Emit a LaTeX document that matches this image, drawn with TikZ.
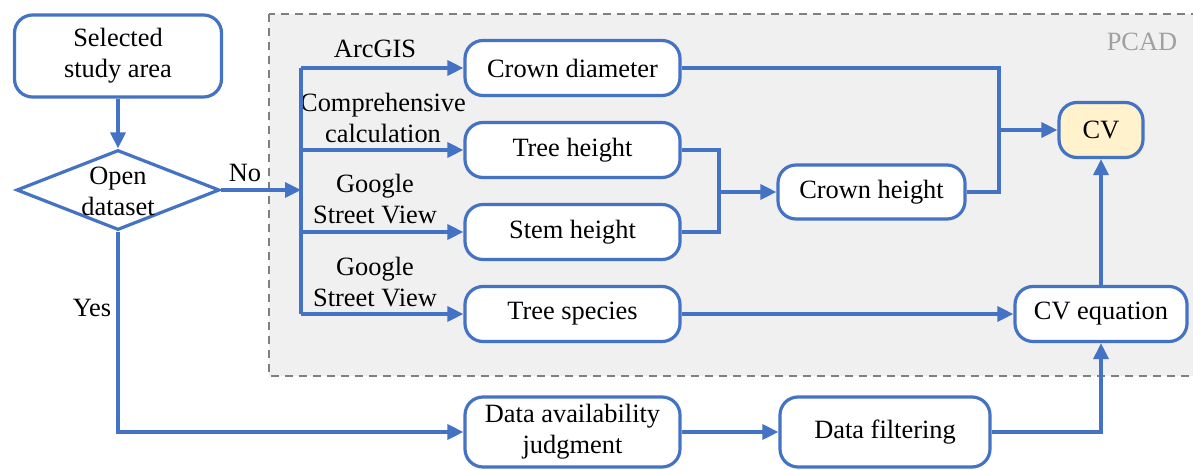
\documentclass[tikz,border=0pt]{standalone}
\usepackage{fontspec}
\setmainfont{Liberation Serif}
\usetikzlibrary{arrows.meta,shapes.geometric}
\definecolor{fb}{HTML}{4472C4}
\definecolor{cvfill}{HTML}{FFF2CC}
\definecolor{pcadbg}{HTML}{F0F0F0}
\definecolor{dashgray}{HTML}{7F7F7F}
\definecolor{pcadtxt}{HTML}{A0A0A0}
\begin{document}
\begin{tikzpicture}[x=0.5pt,y=-0.5pt,
  font=\fontsize{13.2}{15.5}\selectfont,
  box/.style={draw=fb, line width=1.6pt, rounded corners=9pt, fill=white, align=center, inner sep=0pt},
  conn/.style={draw=fb, line width=1.6pt},
  arr/.style={conn, -{Triangle[length=8pt,width=7.5pt]}},
  lbl/.style={align=center, inner sep=0pt}]
\useasboundingbox (0,0) rectangle (1193,470);
\fill[white] (0,0) rectangle (1193,470);
% PCAD region
\path[fill=pcadbg, draw=dashgray, line width=1.25pt, dash pattern=on 4pt off 3pt] (269,14) rectangle (1205,376);
\node[lbl, text=pcadtxt] (pcad) at (1142,42) {PCAD};

% nodes
\node[box, minimum width=103.5pt, minimum height=41pt] (sel) at (118,56) {Selected\\study area};
\node[draw=fb, line width=1.6pt, diamond, fill=white, minimum width=101.5pt, minimum height=40pt, inner sep=0pt] (dia) at (118,190) {};
\node[lbl] (diat) at (118,191) {Open\\dataset};

\node[box, minimum width=107.5pt, minimum height=27.5pt] (cd) at (572.5,68) {Crown diameter};
\node[box, minimum width=107.5pt, minimum height=27.5pt] (th) at (572.5,150) {Tree height};
\node[box, minimum width=107.5pt, minimum height=27.5pt] (sh) at (572.5,232) {Stem height};
\node[box, minimum width=107.5pt, minimum height=27.5pt] (ts) at (572.5,314) {Tree species};
\node[box, minimum width=93.5pt, minimum height=27pt] (ch) at (871.5,192) {Crown height};
\node[box, fill=cvfill, minimum width=42pt, minimum height=27.5pt] (cv) at (1101,130) {CV};
\node[box, minimum width=86pt, minimum height=27.5pt] (cve) at (1101,314) {CV equation};
\node[box, minimum width=107.5pt, minimum height=35pt] (da) at (572.5,432) {Data availability\\judgment};
\node[box, minimum width=105pt, minimum height=35pt] (df) at (885,432) {Data filtering};

% labels
\node[lbl] (l1) at (375,49) {ArcGIS};
\node[lbl] (l2) at (383,118) {Comprehensive\\calculation};
\node[lbl] (l3) at (375,199) {Google\\Street View};
\node[lbl] (l4) at (375,282) {Google\\Street View};
\node[lbl] (lno) at (245,173) {No};
\node[lbl] (lyes) at (92,308) {Yes};

% coordinates
\coordinate (split) at (301,190);
\coordinate (vt) at (301,68);
\coordinate (vb) at (301,314);
\coordinate (bx) at (719,192);
\coordinate (jx) at (999,130);

% connectors
\draw[arr] (sel.south) -- (dia.north);
\draw[arr] (dia.east) -- (split);
\draw[conn] (vt) -- (vb);
\draw[arr] (vt) -- (cd.west);
\draw[arr] (vt |- th.west) -- (th.west);
\draw[arr] (vt |- sh.west) -- (sh.west);
\draw[arr] (vb) -- (ts.west);
\draw[conn] (th.east) -- (th.east -| bx) -- (sh.east -| bx) -- (sh.east);
\draw[arr] (bx |- ch.west) -- (ch.west);
\draw[conn] (ch.east) -- (ch.east -| jx) -- (cd.east -| jx) -- (cd.east);
\draw[arr] (jx |- cv.west) -- (cv.west);
\draw[arr] (ts.east) -- (cve.west);
\draw[arr] (cve.north) -- (cv.south);
\draw[arr] (dia.south) |- (da.west);
\draw[arr] (da.east) -- (df.west);
\draw[arr] (df.east) -| (cve.south);
\end{tikzpicture}
\end{document}
